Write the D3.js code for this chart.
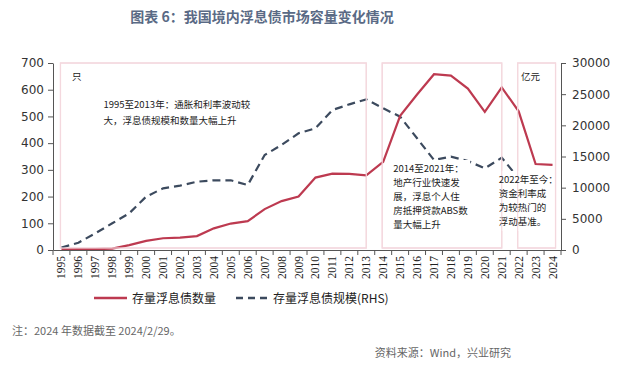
<!DOCTYPE html>
<html>
<head>
<meta charset="utf-8">
<title>我国境内浮息债市场容量变化情况</title>
<script src="https://cdn.jsdelivr.net/npm/d3@7"></script>
<style>
  html, body { margin: 0; padding: 0; background: #fff; }
  svg { display: block; font-family: "Noto Sans CJK SC", "Noto Sans", sans-serif; }
  .axis path, .axis line { stroke: #555; }
  .axis text { font-family: "DejaVu Sans", sans-serif; font-size: 12px; fill: #333; }
  .xaxis text { font-family: "Liberation Serif", serif; font-size: 11.5px; fill: #222; }
  .note { font-size: 11px; fill: #666; }
  .anno { font-size: 9.5px; fill: #222; }
</style>
</head>
<body>
<svg width="640" height="372"></svg>
<script>
// 年份
var years = d3.range(1995, 2025).map(String);
// 存量浮息债数量（只）
var counts = [2, 3, 3, 5, 18, 34, 44, 46, 52, 81, 99, 108, 153, 183, 200, 271,
              286, 285, 279, 330, 502, 582, 658, 653, 604, 517, 609, 519, 322, 319];
// 存量浮息债规模（亿元），2024 无可见值
var scale = [400, 1170, 2680, 4280, 5880, 8560, 9900, 10320, 10960, 11180, 11180,
             10430, 15240, 16850, 18720, 19520, 22460, 23370, 24170, 22730, 21390,
             17920, 14440, 14970, 14280, 13100, 14810, 11500, 9200, null];
var leftTicks = d3.range(0, 701, 100);
var rightTicks = d3.range(0, 30001, 5000);

// 阶段区间
var periods = [
  { from: "1995", to: "2013", lines: ["1995至2013年：通胀和利率波动较", "大，浮息债规模和数量大幅上升"], tx: "1995", dx: 42, ty: 108, bg: false },
  { from: "2014", to: "2021", lines: ["2014至2021年：", "地产行业快速发", "展，浮息个人住", "房抵押贷款ABS数", "量大幅上升"], tx: "2014", dx: 10, ty: 172, bg: true },
  { from: "2022", to: "2024", lines: ["2022年至今：", "资金利率成", "为较热门的", "浮动基准。"], tx: "2022", dx: -20, ty: 183, bg: true }
];

var svg = d3.select("svg");
var mLeft = 53, mRight = 561, mTop = 63, mBottom = 250;

var x = d3.scaleBand().domain(years).range([mLeft, mRight]);
var yL = d3.scaleLinear().domain([0, 700]).range([mBottom, mTop]);
var yR = d3.scaleLinear().domain([0, 30000]).range([mBottom, mTop]);
var cx = function(d) { return x(d) + x.bandwidth() / 2; };

// title
svg.append("text")
  .attr("x", 262).attr("y", 22)
  .attr("text-anchor", "middle")
  .attr("font-size", 14).attr("font-weight", "bold")
  .attr("fill", "#5a6a85")
  .text("图表 6：我国境内浮息债市场容量变化情况");

function boxes(fill) {
  svg.append("g").selectAll("rect")
    .data(periods).enter().append("rect")
    .attr("x", function(d) { return cx(d.from) - 1; })
    .attr("y", mTop)
    .attr("width", function(d) { return cx(d.to) - cx(d.from) + (d.to == "2024" ? 4 : 1); })
    .attr("height", mBottom - mTop - 2)
    .attr("fill", fill)
    .attr("stroke", "#f4d8de")
    .attr("stroke-width", 1.2);
}
boxes("#fff");

// lines
var redLine = d3.line()
  .x(function(d, i) { return cx(years[i]); })
  .y(function(d) { return yL(d); });
var blueLine = d3.line()
  .defined(function(d) { return d != null; })
  .x(function(d, i) { return cx(years[i]); })
  .y(function(d) { return yR(d); });

svg.append("path").datum(scale)
  .attr("d", blueLine)
  .attr("fill", "none")
  .attr("stroke", "#3c4a5e")
  .attr("stroke-width", 2.2)
  .attr("stroke-dasharray", "8,5");

svg.append("path").datum(counts)
  .attr("d", redLine)
  .attr("fill", "none")
  .attr("stroke", "#bd3a50")
  .attr("stroke-width", 2.2);

// annotation backgrounds
periods.forEach(function(p) {
  if (!p.bg) return;
  var tx = cx(p.tx) + p.dx;
  svg.append("rect")
    .attr("x", tx - 3).attr("y", p.ty - 12)
    .attr("width", p.tx == "2022" ? 52 : 80)
    .attr("height", p.lines.length * 14 + 4)
    .attr("fill", "#fff");
});
boxes("none");

// annotation texts
periods.forEach(function(p) {
  var tx = cx(p.tx) + p.dx;
  var lh = p.bg ? 14 : 16;
  svg.append("g").selectAll("text").data(p.lines).enter().append("text")
    .attr("class", "anno")
    .attr("x", tx)
    .attr("y", function(d, i) { return p.ty + i * lh; })
    .text(function(d) { return d; });
});

svg.append("text").attr("class", "anno").attr("font-size", 11)
  .attr("x", 72).attr("y", 80).text("只");
svg.append("text").attr("class", "anno").attr("font-size", 11)
  .attr("x", 521).attr("y", 80).text("亿元");

// axes
svg.append("g").attr("class", "axis")
  .attr("transform", "translate(" + mLeft + ",0)")
  .call(d3.axisLeft(yL).tickValues(leftTicks).tickSize(5).tickSizeOuter(0).tickPadding(4));

svg.append("g").attr("class", "axis")
  .attr("transform", "translate(" + mRight + ",0)")
  .call(d3.axisRight(yR).tickValues(rightTicks).tickFormat(d3.format("d"))
        .tickSize(5).tickSizeOuter(0).tickPadding(6));

var xg = svg.append("g").attr("class", "axis xaxis")
  .attr("transform", "translate(0," + mBottom + ")")
  .call(d3.axisBottom(x).tickSize(0).tickPadding(0));
xg.selectAll("text")
  .attr("transform", "rotate(-90)")
  .attr("text-anchor", "end")
  .attr("dx", "-6px")
  .attr("dy", "0.35em")
  .attr("y", 0);
// ticks between categories
xg.selectAll(".sep").data(years.concat(["end"])).enter().append("line")
  .attr("x1", function(d, i) { return mLeft + i * x.step(); })
  .attr("x2", function(d, i) { return mLeft + i * x.step(); })
  .attr("y1", 0).attr("y2", 5)
  .attr("stroke", "#555");

// legend
var lg = svg.append("g").attr("transform", "translate(0,298)");
lg.append("line").attr("x1", 94).attr("x2", 127).attr("y1", 0).attr("y2", 0)
  .attr("stroke", "#bd3a50").attr("stroke-width", 2.5);
lg.append("text").attr("x", 132).attr("y", 5).attr("font-size", 12).attr("fill", "#222")
  .text("存量浮息债数量");
lg.append("line").attr("x1", 236).attr("x2", 270).attr("y1", 0).attr("y2", 0)
  .attr("stroke", "#3c4a5e").attr("stroke-width", 2.5).attr("stroke-dasharray", "7,5");
lg.append("text").attr("x", 273).attr("y", 5).attr("font-size", 12).attr("fill", "#222")
  .text("存量浮息债规模(RHS)");

// notes
svg.append("text").attr("class", "note")
  .attr("x", 12).attr("y", 335)
  .text("注：2024 年数据截至 2024/2/29。");
svg.append("text").attr("class", "note")
  .attr("x", 511).attr("y", 357).attr("text-anchor", "end")
  .text("资料来源：Wind，兴业研究");
</script>
</body>
</html>
